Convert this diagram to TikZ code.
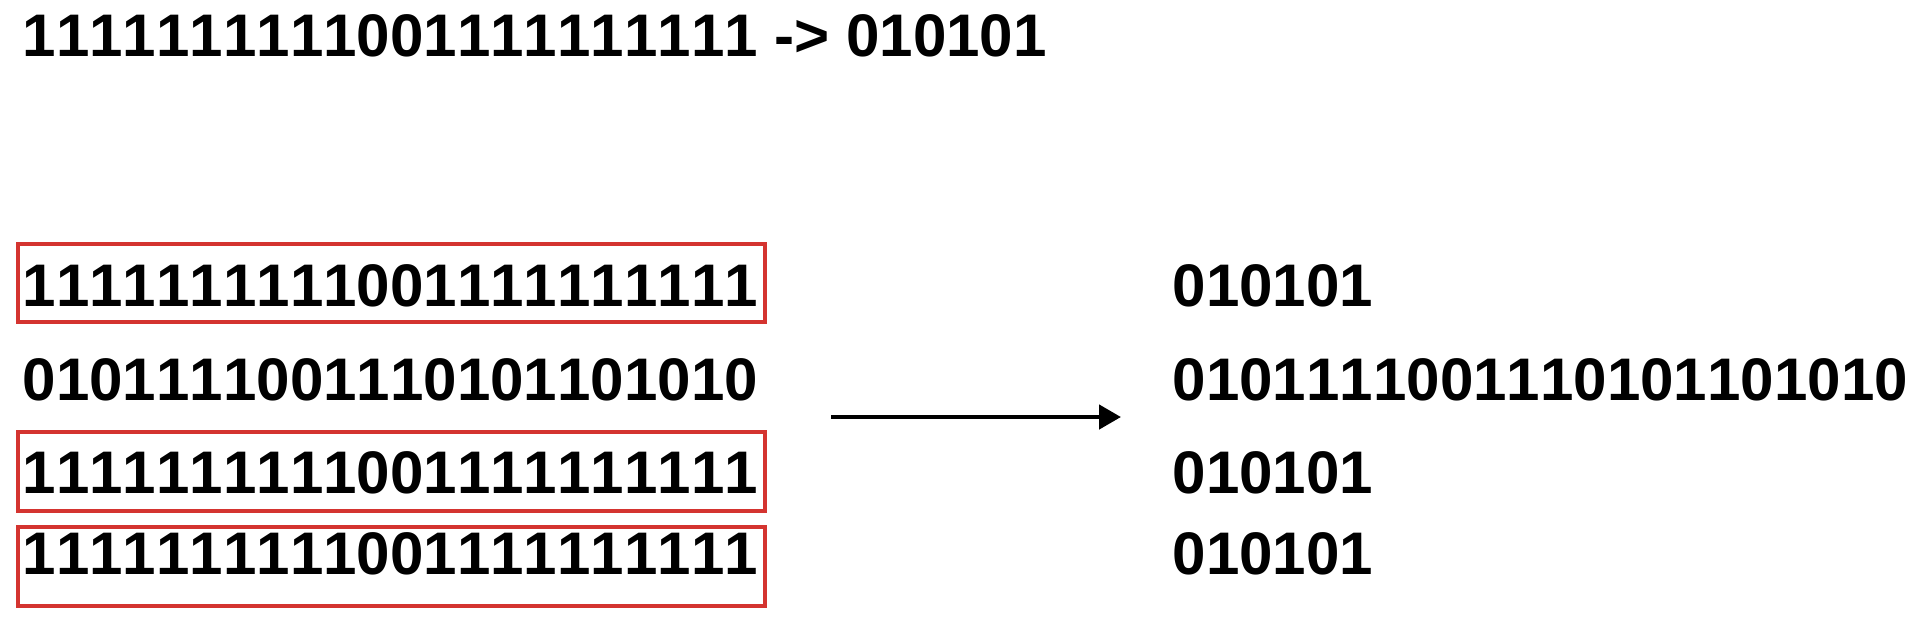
\documentclass[tikz,border=0pt]{standalone}
\usepackage{fontspec}
\setmainfont[Kerning=Off]{Liberation Sans}
\usepackage{tikz}
\usetikzlibrary{arrows.meta}

\definecolor{boxred}{RGB}{212,52,48}

\tikzset{
	bits/.style={anchor=base west, inner sep=0pt, font=\bfseries\fontsize{17.1}{20}\selectfont},
	redbox/.style={draw=boxred, line width=1.1pt},
	conv/.style={line width=1.3pt, -{Triangle[length=0.22cm,width=0.24cm]}}
}

\begin{document}
\begin{tikzpicture}
	
	\useasboundingbox (0,0) rectangle (19.14,-6.34);
	
	\node[bits] (top) at (0.22,-0.56) {1111111111001111111111 -> 010101};
	
	\node[bits] (l1) at (0.22,-3.06) {1111111111001111111111};
	\node[bits] (l2) at (0.22,-4.00) {0101111001110101101010};
	\node[bits] (l3) at (0.22,-4.93) {1111111111001111111111};
	\node[bits] (l4) at (0.22,-5.74) {1111111111001111111111};
	
	\node[bits] (r1) at (11.72,-3.06) {010101};
	\node[bits] (r2) at (11.72,-4.00) {0101111001110101101010};
	\node[bits] (r3) at (11.72,-4.93) {010101};
	\node[bits] (r4) at (11.72,-5.74) {010101};
	
	\draw[redbox] (0.18,-2.44) rectangle (7.65,-3.22);
	\draw[redbox] (0.18,-4.32) rectangle (7.65,-5.11);
	\draw[redbox] (0.18,-5.27) rectangle (7.65,-6.06);
	%\draw[redbox] (0.18,-3.40) rectangle (7.65,-4.18);
	
	\coordinate (a) at (8.31,-4.17);
	\coordinate (b) at (11.21,-4.17);
	\draw[conv] (a) -- (b);
	
\end{tikzpicture}
\end{document}
